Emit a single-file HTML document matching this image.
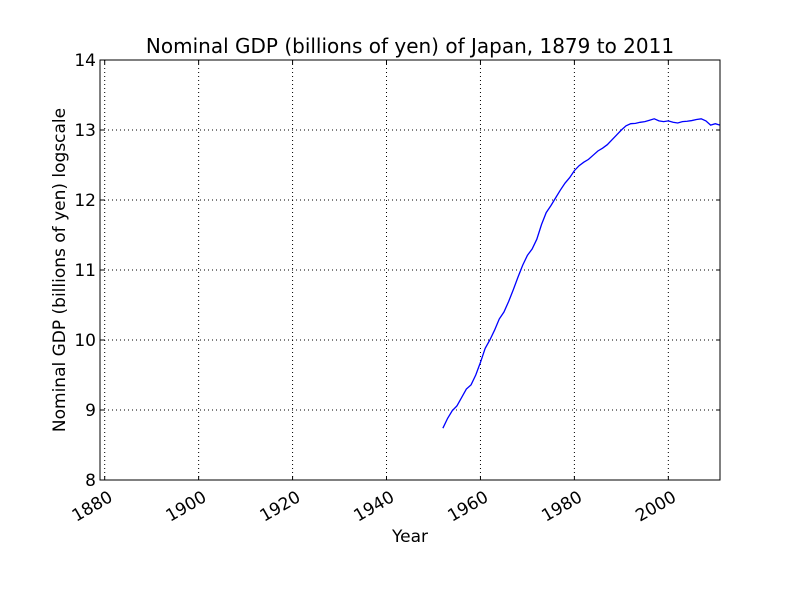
<!DOCTYPE html>
<html><head><meta charset="utf-8"><style>
body{margin:0;background:#fff;font-family:"Liberation Sans","DejaVu Sans",sans-serif}
</style></head><body>
<svg id="chart" width="800" height="600" xmlns="http://www.w3.org/2000/svg" font-family="DejaVu Sans, Liberation Sans, sans-serif">
<rect width="800" height="600" fill="#fff"/>
<text x="410" y="53" font-size="20" text-anchor="middle">Nominal GDP (billions of yen) of Japan, 1879 to 2011</text>
<g id="grid"></g>
<g id="ticks"></g>
<g id="series"></g>
<rect x="100" y="60" width="620" height="420" fill="none" stroke="#000" stroke-width="1"/>
<text x="410" y="542" font-size="17" text-anchor="middle">Year</text>
<text transform="translate(65,270) rotate(-90)" font-size="17" text-anchor="middle">Nominal GDP (billions of yen) logscale</text>
</svg>
<script>
const startYear = 1952;
const gdpLog = [8.74,8.88,8.99,9.06,9.18,9.30,9.36,9.50,9.68,9.88,10.0,10.14,10.30,10.40,10.55,10.72,10.90,11.07,11.21,11.30,11.44,11.65,11.82,11.92,12.03,12.14,12.24,12.32,12.42,12.49,12.54,12.58,12.64,12.70,12.74,12.79,12.86,12.93,13.00,13.06,13.09,13.095,13.11,13.12,13.14,13.16,13.13,13.12,13.13,13.11,13.10,13.12,13.125,13.135,13.15,13.16,13.13,13.07,13.09,13.07];
const xTicks = [1880,1900,1920,1940,1960,1980,2000];
const yTicks = [8,9,10,11,12,13,14];
const NS="http://www.w3.org/2000/svg";
const X0=1879,X1=2011,Y0=8,Y1=14,L=100,R=720,T=60,B=480;
function xs(v){return L+(v-X0)/(X1-X0)*(R-L);}
function ys(v){return B-(v-Y0)/(Y1-Y0)*(B-T);}
function mk(t,a,p){const e=document.createElementNS(NS,t);for(const k in a)e.setAttribute(k,a[k]);p.appendChild(e);return e;}
const grid=document.getElementById('grid'),ticks=document.getElementById('ticks'),series=document.getElementById('series');
xTicks.forEach(v=>{const x=xs(v);
 const g=mk('line',{x1:x,x2:x,y1:T,y2:B,stroke:'#000','stroke-dasharray':'1,3','stroke-width':1},grid);
 
 
 mk('line',{x1:x,x2:x,y1:B,y2:B-4,stroke:'#000'},ticks);
 mk('line',{x1:x,x2:x,y1:T,y2:T+4,stroke:'#000'},ticks);
 const t=mk('text',{x:0,y:0,'font-size':17,'text-anchor':'end',transform:`translate(${x+3},${B+10}) rotate(-30)`,'dominant-baseline':'hanging'},ticks);
 t.textContent=v;
 
 
});
yTicks.forEach(v=>{const y=ys(v);
 const g=mk('line',{x1:L,x2:R,y1:y,y2:y,stroke:'#000','stroke-dasharray':'1,3','stroke-width':1},grid);
 
 
 mk('line',{x1:L,x2:L+4,y1:y,y2:y,stroke:'#000'},ticks);
 mk('line',{x1:R,x2:R-4,y1:y,y2:y,stroke:'#000'},ticks);
 const t=mk('text',{x:L-4,y:y+6,'font-size':17,'text-anchor':'end'},ticks);
 t.textContent=v;
 
 
});
const pts=gdpLog.map((v,i)=>xs(startYear+i).toFixed(2)+','+ys(v).toFixed(2)).join(' ');
const line=mk('polyline',{points:pts,fill:'none',stroke:'#0000ff','stroke-width':1.3},series);


</script>
</body></html>
